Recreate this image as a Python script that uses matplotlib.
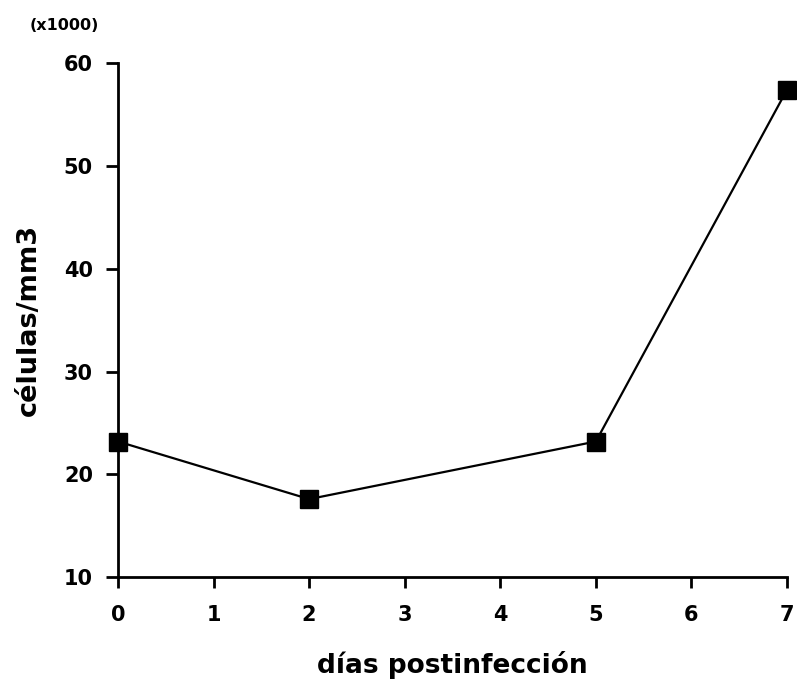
import matplotlib
matplotlib.use("Agg")
import matplotlib.pyplot as plt

dias = [0, 2, 5, 7]
celulas = [23.2, 17.6, 23.2, 57.4]
xticks = [0, 1, 2, 3, 4, 5, 6, 7]
yticks = [10, 20, 30, 40, 50, 60]

plt.rcParams["font.family"] = ["DejaVu Sans"]
plt.rcParams["font.weight"] = "bold"

fig = plt.figure(figsize=(7.97, 6.84), dpi=100)
ax = fig.add_axes([0.148, 0.156, 0.8395, 0.752])

ax.plot(dias, celulas, color="black", linewidth=1.6, marker="s",
        markersize=12.5, markerfacecolor="black", markeredgecolor="black",
        clip_on=False, zorder=3)

ax.set_xlim(0, 7)
ax.set_ylim(10, 60)
ax.set_xticks(xticks)
ax.set_yticks(yticks)
ax.spines["top"].set_visible(False)
ax.spines["right"].set_visible(False)
for s in ["left", "bottom"]:
    ax.spines[s].set_linewidth(2)
ax.tick_params(axis="y", direction="out", width=2, length=9,
               labelsize=15, pad=9)
ax.tick_params(axis="x", direction="out", width=2, length=8,
               labelsize=15, pad=12)
for lbl in ax.get_xticklabels() + ax.get_yticklabels():
    lbl.set_fontweight("bold")

ax.set_ylabel("células/mm3", fontsize=19.5, fontweight="bold", labelpad=16)
ax.set_xlabel("días postinfección", fontsize=19, fontweight="bold", labelpad=19)

fig.text(0.037, 0.962, "(x1000)", fontsize=11.5, fontweight="bold",
         ha="left", va="center")

fig.savefig("out.png", dpi=100)
